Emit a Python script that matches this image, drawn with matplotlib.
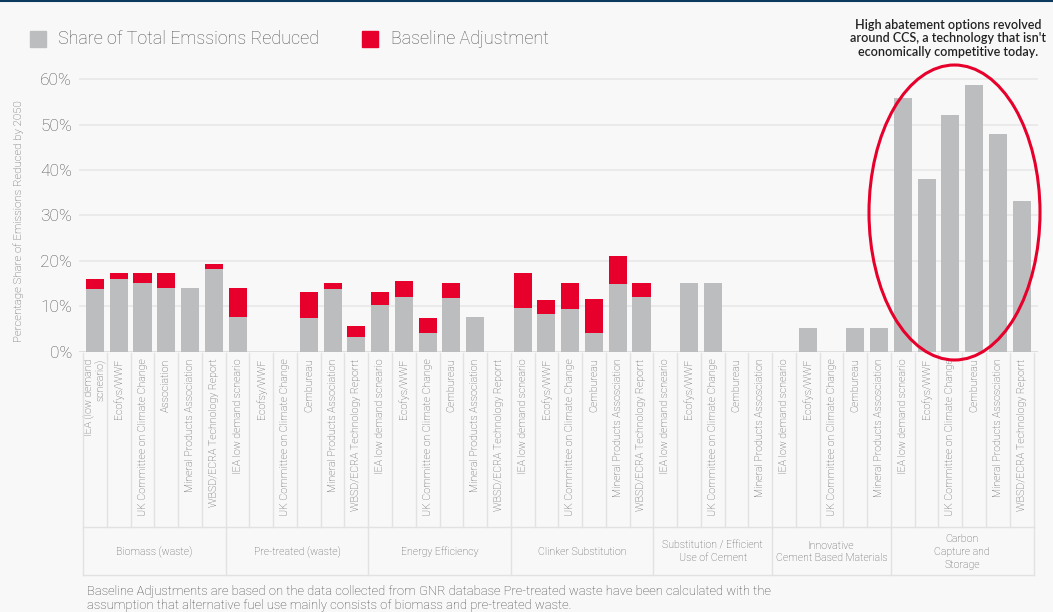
import matplotlib
matplotlib.use("Agg")
import matplotlib.pyplot as plt
import matplotlib.transforms as mtransforms
from matplotlib.patches import Ellipse, Rectangle
from matplotlib.lines import Line2D
import numpy as np

# ---------------- data ----------------
groups = ["Biomass (waste)", "Pre-treated (waste)", "Energy Efficiency",
          "Clinker Substitution", "Substitution / Efficient\nUse of Cement",
          "Innovative\nCement Based Materials", "Carbon\nCapture and\nStorage"]
group_sizes = [6, 6, 6, 6, 5, 5, 6]

labels = [
    "IEA (low demand\nscneario)", "Ecofys/WWF", "UK Committee on Climate Change",
    "Association", "Mineral Products Association", "WBSD/ECRA Technology Report",
    "IEA low demand scneario", "Ecofsy/WWF", "UK Committee on Climate Change",
    "Cembureau", "Mineral Products Association", "WBSD/ECRA Technology Reporrt",
    "IEA low demand scneario", "Ecofys/WWF", "UK Committee on Climate Change",
    "Cembureau", "Mineral Products Association", "WBSD/ECRA Technology Reporrt",
    "IEA low demand scneario", "Ecofys/WWF", "UK Committee on Climate Change",
    "Cembureau", "Mineral Products Assosciation", "WBSD/ECRA Technology Reporrt",
    "IEA low demand scneario", "Ecofys/WWF", "UK Committee on Climate Change",
    "Cembureau", "Mineral Products Assosciation",
    "IEA low demand scneario", "Ecofys/WWF", "UK Committee on Climate Change",
    "Cembureau", "Mineral Products Assosciation",
    "IEA low demand scneario", "Ecofys/WWF", "UK Committee on Climate Change",
    "Cembureau", "Mineral Products Assosciation", "WBSD/ECRA Technology Reporrt",
]

share_reduced = [13.7, 15.9, 15.0, 13.9, 13.9, 18.1,
                 7.5, 0, 0, 7.3, 13.7, 3.1,
                 10.2, 12.1, 4.0, 11.7, 7.5, 0,
                 9.5, 8.2, 9.3, 4.0, 14.8, 12.1,
                 0, 15.0, 15.0, 0, 0,
                 0, 5.1, 0, 5.1, 5.1,
                 55.8, 38.0, 52.1, 58.7, 47.9, 33.1]
baseline_adjustment = [2.2, 1.3, 2.2, 3.3, 0, 1.1,
                       6.4, 0, 0, 5.7, 1.3, 2.6,
                       3.0, 3.4, 3.3, 3.3, 0, 0,
                       7.9, 3.1, 5.7, 7.5, 6.2, 2.9,
                       0, 0, 0, 0, 0,
                       0, 0, 0, 0, 0,
                       0, 0, 0, 0, 0, 0]

yticks = [0, 10, 20, 30, 40, 50, 60]
ytick_labels = ["0%", "10%", "20%", "30%", "40%", "50%", "60%"]

legend_labels = ["Share of Total Emssions Reduced", "Baseline Adjustment"]
ylabel = "Percentage Share of Emissions Reduced by 2050"
annotation = ("High abatement options revolved\naround CCS, a technology that isn't\n"
              "economically competitive today.")
footnote = ("Baseline Adjustments are based on the data collected from GNR database Pre-treated waste have been calculated with the\n"
            "assumption that alternative fuel use mainly consists of biomass and pre-treated waste.")

# ---------------- style ----------------
GRAY = "#bcbdbf"
RED = "#e6002b"
BG = "#f8f8f8"
TXT = "#555555"
LINE = "#e2e2e2"

W, H = 1053, 612
def fx(px): return px / W
def fy(py): return 1 - py / H

fig = plt.figure(figsize=(W / 100, H / 100), dpi=100, facecolor=BG)

ax_left, ax_right = 79, 1038
y0_px, ymax = 351.5, 63
px_per_unit = 4.54
ax_top = y0_px - ymax * px_per_unit
ax = fig.add_axes([fx(ax_left), fy(y0_px), fx(ax_right) - fx(ax_left), (y0_px - ax_top) / H])
ax.set_facecolor(BG)

n = len(labels)
x = np.arange(n)
bar_px = 23.76
xl = -(95 - ax_left) / bar_px
xr = xl + (ax_right - ax_left) / bar_px
ax.set_xlim(xl, xr)
ax.set_ylim(0, ymax)

ax.bar(x, share_reduced, width=0.76, color=GRAY, zorder=3)
ax.bar(x, baseline_adjustment, bottom=share_reduced, width=0.76, color=RED, zorder=3)

for sp in ax.spines.values():
    sp.set_visible(False)
ax.set_yticks(yticks)
ax.set_yticklabels(ytick_labels, fontsize=12.5, color=TXT, family="Roboto", fontweight="light")
ax.yaxis.grid(True, color="#e6e6e6", lw=1.1, zorder=0)
ax.set_axisbelow(True)
ax.axhline(0, color="#dddddd", lw=2, zorder=2)
ax.tick_params(axis="y", length=0, pad=5)
ax.set_xticks(x)
ax.set_xticklabels(labels, rotation=90, va="top", ha="center", fontsize=7.7,
                   color=TXT, family="Roboto", fontweight="light", multialignment="right",
                   linespacing=1.0)
ax.tick_params(axis="x", length=0, pad=5)

fig.text(fx(19), fy(221), ylabel, rotation=90, ha="center", va="center", fontsize=8.2,
         color=TXT, family="Roboto", fontweight="light")

# ---------------- category table below axis ----------------
blend = mtransforms.blended_transform_factory(ax.transData, fig.transFigure)
for i in range(n + 1):
    xv = i - 0.5
    fig.add_artist(Line2D([xv, xv], [fy(353), fy(527)], transform=blend, color=LINE, lw=1))
bounds = np.concatenate([[0], np.cumsum(group_sizes)]) - 0.5
for b in bounds:
    fig.add_artist(Line2D([b, b], [fy(527), fy(575)], transform=blend, color=LINE, lw=1))
for yy in (527, 575):
    fig.add_artist(Line2D([bounds[0], bounds[-1]], [fy(yy), fy(yy)], transform=blend, color=LINE, lw=1))
for g, a, b in zip(groups, bounds[:-1], bounds[1:]):
    fig.text((a + b) / 2, fy(552), g, transform=blend, ha="center", va="center",
             fontsize=7.6, color=TXT, family="Roboto", fontweight="light", linespacing=1.35)

# ---------------- legend ----------------
fig.add_artist(Rectangle((fx(30), fy(47)), fx(16), 16 / H, transform=fig.transFigure,
                         color=GRAY))
fig.text(fx(58), fy(39), legend_labels[0], ha="left", va="center", fontsize=12.9,
         color=TXT, family="Roboto", fontweight="light")
fig.add_artist(Rectangle((fx(362), fy(47)), fx(16), 16 / H, transform=fig.transFigure,
                         color=RED))
fig.text(fx(391), fy(39), legend_labels[1], ha="left", va="center", fontsize=12.9,
         color=TXT, family="Roboto", fontweight="light")

# ---------------- annotation + ellipse ----------------
fig.text(fx(948), fy(38.5), annotation, ha="center", va="center", fontsize=9.0,
         color="#222222", family="Lato", fontweight="semibold", linespacing=1.15)
fig.add_artist(Ellipse((fx(954.5), fy(212.5)), 171 / W, 295 / H, transform=fig.transFigure,
                       fill=False, edgecolor=RED, lw=2.2, zorder=10))

# ---------------- footnote ----------------
fig.text(fx(87), fy(598.5), footnote, ha="left", va="center", fontsize=9.4,
         color="#444444", family="Roboto", fontweight="light", linespacing=1.15)

# top navy rule
fig.add_artist(Line2D([0, 1], [fy(0.6), fy(0.6)], transform=fig.transFigure,
                      color="#0b3a5e", lw=1.5))

fig.savefig("out.png", dpi=100, facecolor=BG)
